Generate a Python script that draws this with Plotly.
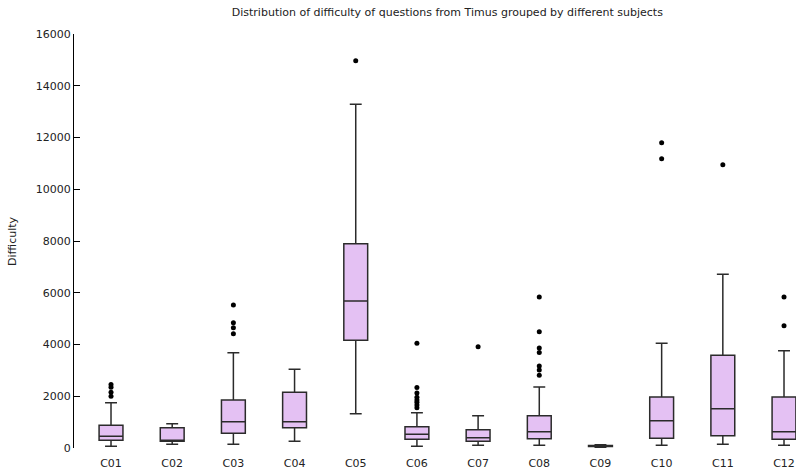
import plotly.graph_objects as go

categories = ["C01", "C02", "C03", "C04", "C05", "C06", "C07", "C08", "C09", "C10", "C11", "C12"]
lower_fence = [64, 142, 142, 258, 1327, 64, 103, 103, 30, 103, 142, 103]
q1_vals = [297, 258, 567, 786, 4161, 335, 258, 361, 55, 374, 477, 335]
median_vals = [451, 275, 1018, 1018, 5681, 528, 399, 631, 75, 1057, 1520, 631]
q3_vals = [876, 786, 1855, 2152, 7896, 825, 709, 1249, 95, 1971, 3581, 1971]
upper_fence = [1751, 940, 3684, 3041, 13283, 1365, 1249, 2357, 130, 4045, 6712, 3762]
outliers = {
    "C01": [2000, 2150, 2350, 2450],
    "C03": [4418, 4651, 4844, 5526],
    "C05": [14969],
    "C06": [1559, 1662, 1765, 1855, 1960, 2125, 2340, 4045],
    "C07": [3917],
    "C08": [2815, 3014, 3170, 3690, 3860, 4496, 5836],
    "C10": [11182, 11800],
    "C11": [10950],
    "C12": [4728, 5836],
}
y_ticks = [0, 2000, 4000, 6000, 8000, 10000, 12000, 14000, 16000]
y_tick_labels = [str(v) for v in y_ticks]

font = "DejaVu Sans, Verdana, sans-serif"
idx = list(range(len(categories)))

fig = go.Figure()
fig.add_trace(go.Box(
    x=idx, q1=q1_vals, median=median_vals, q3=q3_vals,
    lowerfence=lower_fence, upperfence=upper_fence,
    boxpoints=False, width=0.39, whiskerwidth=0.5,
    fillcolor="#e4c1f3", line=dict(color="#2b2b2b", width=1.5),
    showlegend=False, hoverinfo="skip",
))
ox, oy = [], []
for c, vals in outliers.items():
    for v in vals:
        ox.append(categories.index(c))
        oy.append(v)
fig.add_trace(go.Scatter(
    x=ox, y=oy, mode="markers",
    marker=dict(color="black", size=5),
    showlegend=False, hoverinfo="skip",
))

fig.update_layout(
    width=796, height=475,
    margin=dict(l=74, r=0, t=34, b=27),
    paper_bgcolor="white", plot_bgcolor="white",
    font=dict(family=font, size=11, color="#222"),
    title=dict(text="Distribution of difficulty of questions from Timus grouped by different subjects",
               x=0.562, xanchor="center", y=0.975, yanchor="middle",
               font=dict(family=font, size=11, color="#222")),
    xaxis=dict(range=[-0.605, 11.196], tickvals=idx, ticktext=categories,
               showline=False, showgrid=False, zeroline=False, ticks="",
               ticklabelstandoff=7, tickfont=dict(size=11)),
    yaxis=dict(range=[0, 16000], tickvals=y_ticks, ticktext=y_tick_labels,
               showline=True, linecolor="black",
               linewidth=1, ticks="inside", ticklen=6, tickcolor="black",
               showgrid=False, zeroline=False, tickfont=dict(size=11)),
    annotations=[dict(text="Difficulty", xref="paper", yref="paper", x=0, y=0.5,
                      xanchor="center", yanchor="middle", xshift=-62, textangle=-90,
                      showarrow=False, font=dict(family=font, size=11, color="#222"))],
)
fig.write_html("out.html")
